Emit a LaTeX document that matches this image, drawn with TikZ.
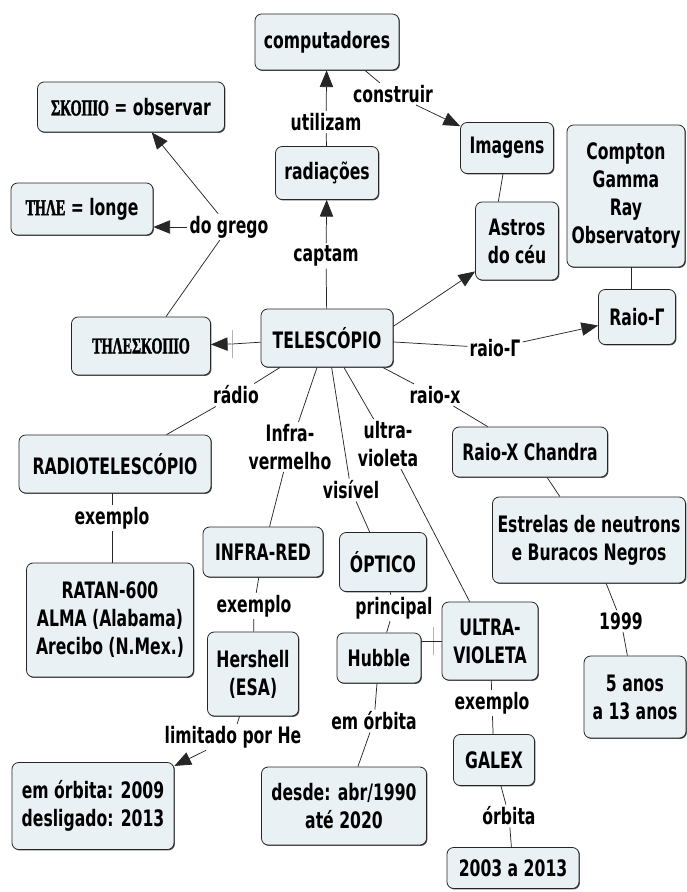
\documentclass[tikz,border=0pt]{standalone}
\usepackage{fontspec}
\newfontfamily\mapfont{DejaVu Sans}[FakeStretch=0.69]
\newfontfamily\grkfont{Liberation Serif}[FakeStretch=0.62, FakeBold=1.6, BoldFont=* Bold]
\usetikzlibrary{arrows.meta,shadows,calc}
\definecolor{boxfill}{RGB}{234,241,244}
\tikzset{
  every node/.style={font=\mapfont\bfseries\fontsize{17}{21}\selectfont, align=center},
  cbox/.style 2 args={draw=black!85, line width=0.6pt, fill=boxfill, rounded corners=5pt,
    minimum width=#1*0.75pt, minimum height=#2*0.75pt, inner sep=1pt,
    drop shadow={shadow xshift=0.7pt, shadow yshift=-0.7pt, opacity=0.7, fill=black}},
  lbl/.style={fill=white, inner sep=1.5pt},
  emptylink/.style={draw=black!45, line width=0.7pt, minimum width=0pt,
    minimum height=21pt, inner sep=0pt},
  ln/.style={draw=black!85, line width=0.55pt},
  arr/.style={ln, -{Triangle[length=12.5pt, width=10pt]}},
}
\newcommand{\gk}[1]{{\grkfont\bfseries\fontsize{17}{21}\selectfont #1}}
\begin{document}
\begin{tikzpicture}[x=0.75pt, y=-0.75pt]
\useasboundingbox[fill=white] (0,0) rectangle (686,892);

% concepts
\node[cbox={144}{56}] (comp) at (327,42) {computadores};
\node[cbox={103}{53}] (rad) at (327,173) {radiações};
\node[cbox={187}{50}] (skopio) at (131,107) {\gk{ΣΚΟΠΙΟ} = observar};
\node[cbox={142}{52}] (tele) at (82,209) {\gk{ΤΗΛΕ} = longe};
\node[cbox={139}{58}] (teleskopio) at (141,346) {\gk{ΤΗΛΕΣΚΟΠΙΟ}};
\node[cbox={132}{58}] (telescopio) at (327,338) {TELESCÓPIO};
\node[cbox={93}{51}] (imagens) at (507,148) {Imagens};
\node[cbox={83}{78}] (astros) at (517,241) {Astros\\do céu};
\node[cbox={118}{142}] (compton) at (626,196) {Compton\\Gamma\\Ray\\Observatory};
\node[cbox={77}{55}] (raioG) at (637,317) {Raio-Γ};
\node[cbox={192}{58}] (radiotel) at (115,464) {RADIOTELESCÓPIO};
\node[cbox={167}{114}] (ratan) at (110,620) {RATAN-600\\ALMA (Alabama)\\Arecibo (N.Mex.)};
\node[cbox={120}{50}] (infrared) at (263,552) {INFRA-RED};
\node[cbox={91}{84}] (hershell) at (253,674) {Hershell\\(ESA)};
\node[cbox={162}{87}] (orb2009) at (93,806) {em órbita: 2009\\desligado: 2013};
\node[cbox={87}{59}] (optico) at (383,562) {ÓPTICO};
\node[cbox={84}{50}] (hubble) at (379,658) {Hubble};
\node[cbox={165}{78}] (desde) at (344,806) {desde: abr/1990\\até 2020};
\node[cbox={96}{78}] (ultra) at (490,641) {ULTRA-\\VIOLETA};
\node[cbox={81}{51}] (galex) at (494,760) {GALEX};
\node[cbox={132}{41}] (galexyrs) at (513,868) {2003 a 2013};
\node[cbox={155}{50}] (chandra) at (530,452) {Raio-X Chandra};
\node[cbox={193}{86}] (estrelas) at (589,540) {Estrelas de neutrons\\e Buracos Negros};
\node[cbox={102}{82}] (anos) at (635,697) {5 anos\\a 13 anos};

% linking phrases
\node[lbl] (utilizam) at (326,122) {utilizam};
\node[lbl] (construir) at (393,94) {construir};
\node[lbl] (dogrego) at (229,227) {do grego};
\node[lbl] (captam) at (326,256) {captam};
\node[lbl] (raioGlab) at (495,348) {raio-Γ};
\node[lbl] (radio) at (236,395) {rádio};
\node[lbl] (raiox) at (435,395) {raio-x};
\node[lbl] (infralab) at (290,447) {Infra-\\vermelho};
\node[lbl] (visivel) at (351,490) {visível};
\node[lbl] (ultralab) at (388,444) {ultra-\\violeta};
\node[lbl] (ex1) at (112,518) {exemplo};
\node[lbl] (ex2) at (254,606) {exemplo};
\node[lbl] (principal) at (394,608) {principal};
\node[lbl] (ex3) at (492,703) {exemplo};
\node[lbl] (limitado) at (233,737) {limitado por He};
\node[lbl] (emorb) at (374,721) {em órbita};
\node[lbl] (orbita) at (509,816) {órbita};
\node[lbl] (y1999) at (621,621) {1999};
\node[emptylink] (bar1) at (232,344) {};
\node[emptylink] (bar2) at (433,641) {};

% connectors
\draw[ln] (telescopio) -- (captam);
\draw[arr] (captam) -- (rad);
\draw[ln] (rad) -- (utilizam);
\draw[arr] (utilizam) -- (comp);
\draw[ln] ([xshift=28.5pt]comp.south) -- (construir);
\draw[arr] (construir) -- (imagens.155);
\draw[ln] ([xshift=-3pt]imagens.south) -- ([xshift=-14pt]astros.north);
\draw[arr] (telescopio.10) -- (astros.216);
\draw[ln] (telescopio) -- (raioGlab);
\draw[arr] (raioGlab) -- (raioG);
\draw[ln] ([xshift=-4pt]raioG.north) -- ([xshift=-4pt]raioG.north |- compton.south);
\draw[ln] (telescopio) -- (bar1);
\draw[arr] (bar1) -- (teleskopio);
\draw[ln] ([xshift=18.75pt]teleskopio.north) -- (dogrego);
\draw[arr] (dogrego.west) -- (dogrego.west -| tele.east);
\draw[arr] (dogrego) -- (skopio);
\draw[ln] (telescopio) -- (radio);
\draw[ln] (radio) -- (radiotel);
\draw[ln] (ex1) -- (ex1 |- radiotel.south);
\draw[ln] (ex1) -- (ex1 |- ratan.north);
\draw[ln] (telescopio) -- (infralab);
\draw[ln] (infralab) -- (infrared);
\draw[ln] (telescopio) -- (visivel);
\draw[ln] (visivel) -- (optico);
\draw[ln] (telescopio) -- (ultralab);
\draw[ln] (ultralab) -- (ultra);
\draw[ln] (telescopio) -- (raiox);
\draw[ln] (raiox) -- (chandra);
\draw[ln] (chandra) -- (estrelas);
\draw[ln] (estrelas) -- (y1999);
\draw[ln] (y1999) -- (anos);
\draw[ln] (infrared) -- (ex2);
\draw[ln] (ex2) -- (hershell);
\draw[ln] (hershell) -- (limitado);
\draw[arr] (limitado) -- (orb2009);
\draw[ln] (optico) -- (principal);
\draw[ln] (principal) -- (hubble);
\draw[ln] (hubble) -- (emorb);
\draw[ln] (emorb) -- (desde);
\draw[ln] (ultra) -- (bar2);
\draw[ln] (bar2) -- (bar2 -| hubble.east);
\draw[ln] (ultra) -- (ex3);
\draw[ln] (ex3) -- (galex);
\draw[ln] (galex) -- (orbita);
\draw[ln] (orbita) -- (galexyrs);
\end{tikzpicture}
\end{document}
